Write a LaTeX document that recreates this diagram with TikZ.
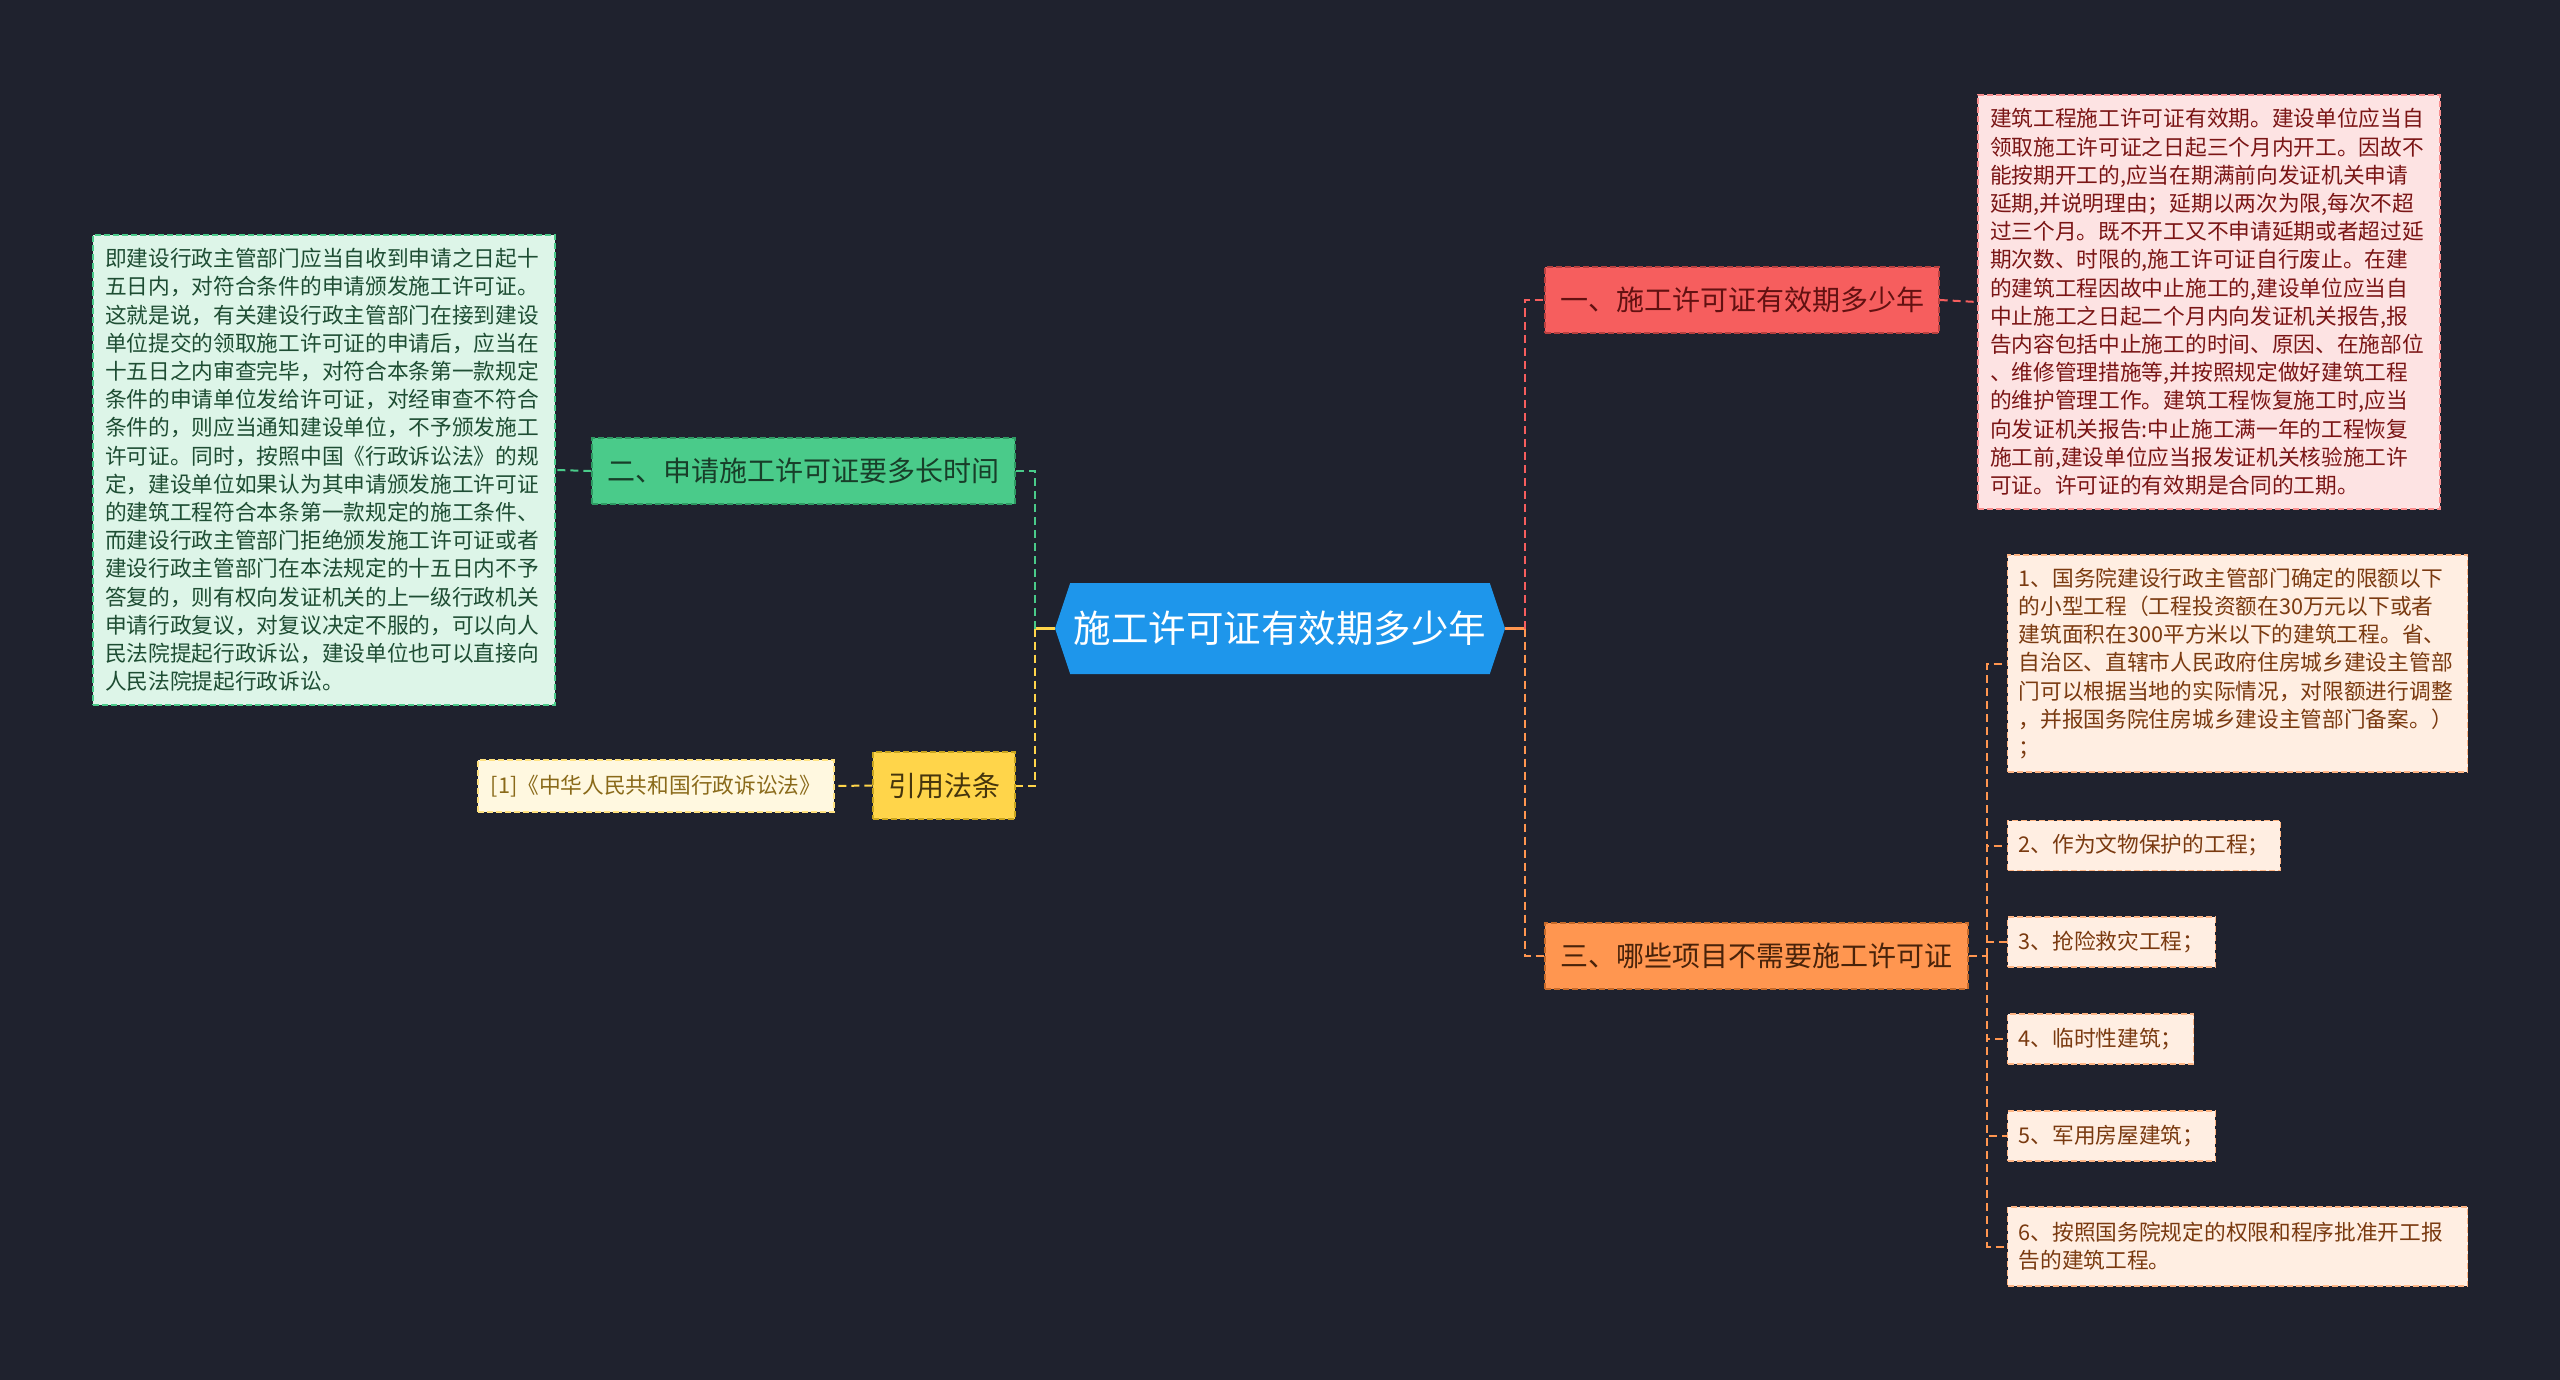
\documentclass[tikz,border=0pt]{standalone}
\usepackage{fontspec}
\setmainfont{Noto Sans CJK SC}
\usetikzlibrary{shapes.symbols}
\definecolor{bgdark}{HTML}{1F222E}
\definecolor{hubblue}{HTML}{1E96EB}
\definecolor{redtop}{HTML}{F65E5E}
\definecolor{redline}{HTML}{B8403F}
\definecolor{rednote}{HTML}{FDE3E3}
\definecolor{redtext}{HTML}{7A1515}
\definecolor{greentop}{HTML}{4ACB8A}
\definecolor{greenline}{HTML}{2E9A63}
\definecolor{greennote}{HTML}{DDF5E8}
\definecolor{greentext}{HTML}{1E4D33}
\definecolor{yellowtop}{HTML}{FFD54A}
\definecolor{yellowline}{HTML}{C9A51E}
\definecolor{yellownote}{HTML}{FFF8E0}
\definecolor{yellowtext}{HTML}{8A6A1A}
\definecolor{orangetop}{HTML}{FF9650}
\definecolor{orangeline}{HTML}{C66A2A}
\definecolor{orangenote}{HTML}{FFEEE2}
\definecolor{orangetext}{HTML}{7A3A10}
\begin{document}
\begin{tikzpicture}[
x=0.5pt,y=-0.5pt,
box/.style={rectangle,inner sep=0pt,draw,line width=0.7pt,dash pattern=on 3pt off 1.5pt},
topic/.style={box,minimum height=33pt,font=\fontsize{14}{16}\selectfont},
note/.style={box,align=left,inner xsep=6pt,font=\fontsize{10.85}{14.1}\selectfont},
item/.style={note,anchor=west,minimum height=25pt,inner xsep=5.5pt},
link/.style={line width=1pt,dash pattern=on 4pt off 2.5pt}
]
\fill[bgdark] (0,0) rectangle (2560,1380);

% central topic
\node[signal,signal to=west and east,signal pointer angle=143,fill=hubblue,
  inner sep=0pt,minimum width=225pt,minimum height=45.5pt,text=white,
  font=\fontsize{18.75}{20}\selectfont] (root) at (1280,628.5) {施工许可证有效期多少年};
\coordinate (jl) at (1035,628.5);
\coordinate (jr) at (1525,628.5);

% main topics
\node[topic,fill=redtop,draw=redline,text=redtext!80!black,minimum width=197pt] (t1) at (1742,300) {一、施工许可证有效期多少年};
\node[topic,fill=greentop,draw=greenline,text=greentext!80!black,minimum width=211.5pt] (t2) at (803.5,471) {二、申请施工许可证要多长时间};
\node[topic,fill=orangetop,draw=orangeline,text=orangetext!60!black,minimum width=211.5pt] (t3) at (1756.5,956) {三、哪些项目不需要施工许可证};
\node[topic,fill=yellowtop,draw=yellowline,text=yellowtext!50!black,minimum width=71pt,minimum height=33.5pt] (law) at (944,785.5) {引用法条};

% notes
\node[note,fill=rednote,draw=redtop!70,text=redtext,text width=219pt,minimum height=207pt] (n1) at (2209,302) {建筑工程施工许可证有效期。建设单位应当自\\领取施工许可证之日起三个月内开工。因故不\\能按期开工的,应当在期满前向发证机关申请\\延期,并说明理由；延期以两次为限,每次不超\\过三个月。既不开工又不申请延期或者超过延\\期次数、时限的,施工许可证自行废止。在建\\的建筑工程因故中止施工的,建设单位应当自\\中止施工之日起二个月内向发证机关报告,报\\告内容包括中止施工的时间、原因、在施部位\\、维修管理措施等,并按照规定做好建筑工程\\的维护管理工作。建筑工程恢复施工时,应当\\向发证机关报告:中止施工满一年的工程恢复\\施工前,建设单位应当报发证机关核验施工许\\可证。许可证的有效期是合同的工期。};
\node[note,fill=greennote,draw=greentop,text=greentext,text width=219pt,minimum height=235pt] (n2) at (324,470) {即建设行政主管部门应当自收到申请之日起十\\五日内，对符合条件的申请颁发施工许可证。\\这就是说，有关建设行政主管部门在接到建设\\单位提交的领取施工许可证的申请后，应当在\\十五日之内审查完毕，对符合本条第一款规定\\条件的申请单位发给许可证，对经审查不符合\\条件的，则应当通知建设单位，不予颁发施工\\许可证。同时，按照中国《行政诉讼法》的规\\定，建设单位如果认为其申请颁发施工许可证\\的建筑工程符合本条第一款规定的施工条件、\\而建设行政主管部门拒绝颁发施工许可证或者\\建设行政主管部门在本法规定的十五日内不予\\答复的，则有权向发证机关的上一级行政机关\\申请行政复议，对复议决定不服的，可以向人\\民法院提起行政诉讼，建设单位也可以直接向\\人民法院提起行政诉讼。};
\node[note,fill=yellownote,draw=yellowtop!70,text=yellowtext,minimum width=178pt,minimum height=26pt,align=center] (ref) at (656,786) {[1]《中华人民共和国行政诉讼法》};

% items of topic three
\node[item,fill=orangenote,draw=orangetop!70,text=orangetext,text width=219pt,minimum height=108.5pt] (i1) at (2007,663.5) {1、国务院建设行政主管部门确定的限额以下\\的小型工程（工程投资额在30万元以下或者\\建筑面积在300平方米以下的建筑工程。省、\\自治区、直辖市人民政府住房城乡建设主管部\\门可以根据当地的实际情况，对限额进行调整\\，并报国务院住房城乡建设主管部门备案。）\\；};
\node[item,fill=orangenote,draw=orangetop!70,text=orangetext] (i2) at (2007,845.5) {2、作为文物保护的工程；};
\node[item,fill=orangenote,draw=orangetop!70,text=orangetext] (i3) at (2007,942) {3、抢险救灾工程；};
\node[item,fill=orangenote,draw=orangetop!70,text=orangetext] (i4) at (2007,1039) {4、临时性建筑；};
\node[item,fill=orangenote,draw=orangetop!70,text=orangetext] (i5) at (2007,1136) {5、军用房屋建筑；};
\node[item,fill=orangenote,draw=orangetop!70,text=orangetext,text width=219pt,minimum height=39.5pt] (i6) at (2007,1246.5) {6、按照国务院规定的权限和程序批准开工报\\告的建筑工程。};
\coordinate (jo) at (1987,956);

% connectors
\draw[line width=1.2pt,yellowtop] (root.west) -- (jl);
\draw[line width=1.2pt,orangetop] (root.east) -- (jr);
\draw[link,greentop] (jl) |- (t2.east);
\draw[link,yellowtop] (jl) |- (law.east);
\draw[link,greentop] (t2.west) -- (n2.east);
\draw[link,yellowtop] (law.west) -- (ref.east);
\draw[link,redtop] (jr) |- (t1.west);
\draw[link,orangetop] (jr) |- (t3.west);
\draw[link,redtop] (t1.east) -- (n1.west);
\draw[link,orangetop] (t3.east) -- (jo);
\foreach \i in {1,...,6}
  \draw[link,orangetop] (jo) |- (i\i.west);
\end{tikzpicture}
\end{document}
